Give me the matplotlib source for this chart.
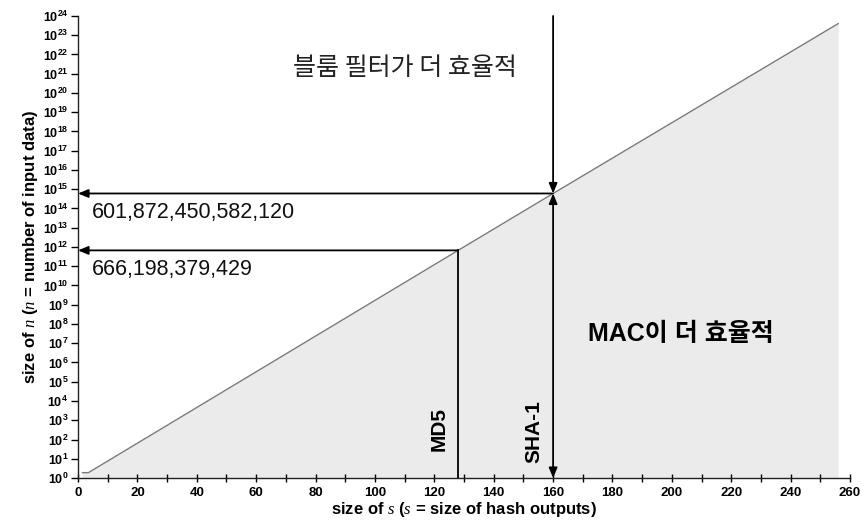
import matplotlib
matplotlib.use("Agg")
import matplotlib.pyplot as plt

# ── data ──────────────────────────────────────────────────────────────
curve_s = [1.5, 3.5, 128, 160, 256]
curve_n = [1.9, 1.9, 6.66e11, 6.02e14, 4.0e23]

hash_names = ["MD5", "SHA-1"]
hash_bits = [128, 160]
crossover_n = [666198379429, 601872450582120]
crossover_labels = ["666,198,379,429", "601,872,450,582,120"]

region_labels = ["블룸 필터가 더 효율적", "MAC이 더 효율적"]
x_ticks = list(range(0, 261, 20))
y_exps = list(range(0, 25))

# ── style ─────────────────────────────────────────────────────────────
plt.rcParams["font.family"] = ["Liberation Sans", "Noto Sans CJK KR", "DejaVu Sans"]
plt.rcParams["mathtext.fontset"] = "custom"
plt.rcParams["mathtext.rm"] = "Liberation Sans"
plt.rcParams["mathtext.bf"] = "Liberation Sans:bold"
plt.rcParams["mathtext.it"] = "Liberation Serif:italic"

fig = plt.figure(figsize=(8.65, 5.29), dpi=100)
ax = fig.add_axes([0.0902, 0.0964, 0.8925, 0.8734])

ax.set_yscale("log")
ax.set_xlim(0, 260)
ax.set_ylim(1, 1e24)

# curve + shaded "MAC" region underneath
ax.fill_between(curve_s, 1, curve_n, color="#ebebeb", lw=0, zorder=1)
ax.plot(curve_s, curve_n, color="#7a7a7a", lw=1.0, zorder=2)

head = dict(arrowstyle="-|>,head_length=0.6,head_width=0.25", color="black",
            lw=1.3, shrinkA=0, shrinkB=0)
both = dict(arrowstyle="<|-|>,head_length=0.6,head_width=0.25", color="black",
            lw=1.3, shrinkA=0, shrinkB=0)

# horizontal arrows from crossover points to the y axis
for bits, n, lab in zip(hash_bits, crossover_n, crossover_labels):
    ax.annotate("", xy=(0, n), xytext=(bits, n), arrowprops=head, zorder=4)
    ax.text(4.5, n / 10 ** 1.0, lab, fontsize=15.5, va="center", ha="left",
            color="#111111", zorder=5)

# MD5: plain vertical line down to axis
ax.plot([hash_bits[0], hash_bits[0]], [1, crossover_n[0]], color="black", lw=1.3, zorder=4)
# SHA-1: arrow from top down to curve, double arrow curve -> axis
ax.annotate("", xy=(hash_bits[1], crossover_n[1]), xytext=(hash_bits[1], 1e24),
            arrowprops=head, zorder=4)
ax.annotate("", xy=(hash_bits[1], 1), xytext=(hash_bits[1], crossover_n[1]),
            arrowprops=both, zorder=4)

ax.text(hash_bits[0] - 6.5, 10 ** 2.55, hash_names[0], rotation=90, fontsize=15,
        fontweight="bold", ha="center", va="center", zorder=5)
ax.text(hash_bits[1] - 6.5, 10 ** 2.4, hash_names[1], rotation=90, fontsize=15,
        fontweight="bold", ha="center", va="center", zorder=5)

ax.text(110, 10 ** 21.3, region_labels[0], fontsize=18, ha="center", va="center",
        family=["Noto Sans CJK KR", "DejaVu Sans"], fontweight="medium",
        color="#222222", zorder=5)
ax.text(203, 10 ** 7.5, region_labels[1], fontsize=18, ha="center", va="center",
        family=["Liberation Sans", "Noto Sans CJK KR"], fontweight="bold", zorder=5)

# axes
ax.spines["top"].set_visible(False)
ax.spines["right"].set_visible(False)
for sp in ("left", "bottom"):
    ax.spines[sp].set_linewidth(1.0)
    ax.spines[sp].set_color("#222222")

ax.set_xticks(x_ticks)
ax.set_xticks(range(10, 261, 20), minor=True)
ax.set_xticklabels([str(t) for t in x_ticks], fontsize=9.5, fontweight="bold")
ax.tick_params(axis="x", which="both", direction="inout", length=6, width=1.0)
ax.set_yticks([10.0 ** e for e in y_exps])
ax.set_yticklabels([r"$\mathbf{10^{%d}}$" % e for e in y_exps], fontsize=9)
ax.yaxis.set_minor_locator(matplotlib.ticker.NullLocator())
ax.tick_params(axis="y", which="major", direction="out", length=5, width=1.0, pad=2)

ax.set_xlabel(r"size of $\mathit{s}$ ($\mathit{s}$ = size of hash outputs)",
              fontsize=12, fontweight="bold", labelpad=1)
ax.set_ylabel(r"size of $\mathit{n}$ ($\mathit{n}$ = number of input data)",
              fontsize=12, fontweight="bold", labelpad=2)

fig.savefig("out.png", dpi=100)
